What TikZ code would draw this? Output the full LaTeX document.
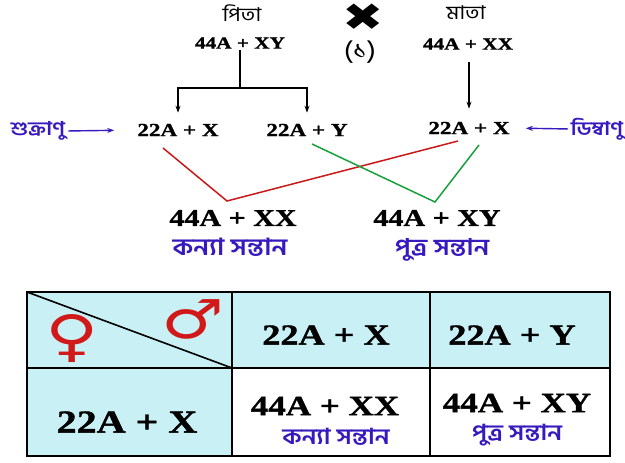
\documentclass[tikz,border=0pt]{standalone}
\usepackage{fontspec}
\setmainfont{Liberation Serif}
\newfontfamily\formfont[FakeStretch=1.25,FakeBold=1.2]{Liberation Serif}
\newfontfamily\bnfont[Script=Bengali,FakeStretch=1.15]{Hind Siliguri}
\newfontfamily\symfont[FakeStretch=1.3]{DejaVu Sans}
\usetikzlibrary{arrows.meta,calc}
\definecolor{bnblue}{RGB}{55,25,190}
\definecolor{crossred}{RGB}{200,25,25}
\definecolor{crossgreen}{RGB}{25,160,60}
\definecolor{cellcyan}{RGB}{200,240,245}
\definecolor{signred}{RGB}{210,25,25}

\begin{document}
\begin{tikzpicture}[x=1pt,y=-1pt,
  form/.style={inner sep=1pt,font=\formfont\bfseries\fontsize{#1}{#1}\selectfont},
  bn/.style={inner sep=1pt,text=bnblue,font=\bnfont\bfseries\fontsize{#1}{#1}\selectfont},
  bnblack/.style={inner sep=1pt,font=\bnfont\fontsize{#1}{#1}\selectfont},
  arr/.style={-{Stealth[length=7pt,width=5pt]},line width=1.4pt},
  sign/.style={inner sep=0pt,text=signred,font=\symfont\fontsize{#1}{#1}\selectfont}]
  \useasboundingbox ({0}, 0) rectangle ({625}, 463);

  % parents
  \node[bnblack=19] (father) at ({242}, 13) {পিতা};
  \node[form=17] (fxy) at ({240}, 43) {44A + XY};
  \node[inner sep=0pt,font=\symfont\fontsize{38}{38}\selectfont] (cross) at ({363}, 17) {✖};
  \node[bnblack=25] (one) at ({360}, 52) {(১)};
  \node[bnblack=19] (mother) at ({466}, 13) {মাতা};
  \node[form=17] (mxx) at ({468}, 44) {44A + XX};

  % gametes
  \node[form=18.5] (spx) at ({178}, 130) {22A + X};
  \node[form=18.5] (spy) at ({307}, 130) {22A + Y};
  \node[form=18.5] (ovx) at ({469}, 128) {22A + X};
  \node[bn=19] (sperm) at ({38}, 131) {শুক্রাণু};
  \node[bn=19] (ovum) at ({597}, 129) {ডিম্বাণু};

  \coordinate (brk) at ($(fxy)+(0,45)$);
  \draw[line width=1.4pt] (fxy.south) -- (brk);
  \draw[arr,shorten >=10pt] (brk) -| (spx.north);
  \draw[arr,shorten >=10pt] (brk) -| (spy.north);
  \draw[arr,shorten <=11pt,shorten >=12pt] (ovx.north |- mxx.south) -- (ovx.north);
  \draw[arr,bnblue,shorten <=2pt,shorten >=22pt] (sperm.east) -- (spx.west);
  \draw[arr,bnblue,shorten <=2pt,shorten >=15pt] (ovum.west) -- (ovx.east);

  % offspring
  \node[form=24] (dxx) at ({233}, 218) {44A + XX};
  \node[bn=23.5] (dtr) at ({230}, 247) {কন্যা সন্তান};
  \node[form=24] (sxy) at ({437}, 218) {44A + XY};
  \node[bn=23] (son) at ({442}, 250) {পুত্র সন্তান};

  \draw[crossred,line width=1.5pt]
  ($(spx)+(-15,18)$) -- ($(dxx)+(-6,-17)$) -- ($(ovx)+(-11,13)$);
  \draw[crossgreen,line width=1.5pt]
  ($(spy)+(5,14)$) -- ($(sxy)+(-2,-16)$) -- ($(ovx)+(10,17)$);

  % punnett table
  \fill[cellcyan] ({27}, 292) rectangle ({610}, 368);
  \fill[cellcyan] ({27}, 368) rectangle ({232}, 456);
  \draw[line width=2.2pt] ({27}, 292) rectangle ({610}, 456);
  \foreach \x in
    {
        232,430
    }
    {
        \draw[line width=2.2pt] ({\x}, 292) -- ({\x}, 456);
    }
  \draw[line width=2.2pt] ({27}, 368) -- ({610}, 368);
  \draw[line width=1.6pt] ({27}, 292) -- ({232}, 368);

  \node[sign=56] (female) at ({72}, 339) {♀};
  \node[sign=54] (male) at ({193}, 319) {♂};

  \node[form=29] (tx) at ({326}, 335) {22A + X};
  \node[form=29] (ty) at ({512}, 335) {22A + Y};
  \node[form=32] (tox) at ({127}, 422) {22A + X};
  \node[form=28] (txx) at ({325}, 406) {44A + XX};
  \node[bn=22] (tdtr) at ({336}, 437) {কন্যা সন্তান};
  \node[form=28] (txy) at ({517}, 403) {44A + XY};
  \node[bn=22] (tson) at ({517}, 435) {পুত্র সন্তান};
\end{tikzpicture}
\end{document}
